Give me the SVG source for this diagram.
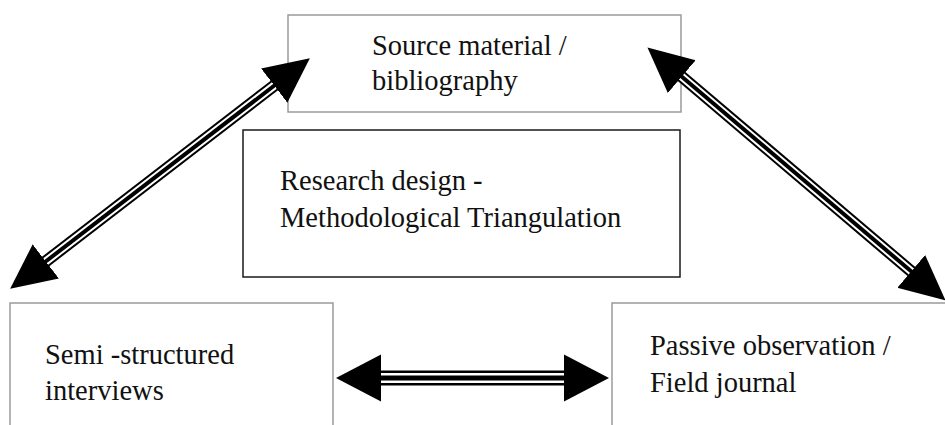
<svg xmlns="http://www.w3.org/2000/svg" width="945" height="425" viewBox="0 0 945 425">
<style>
.box{fill:#fff;stroke:#9a9a9a;stroke-width:1.5}
.dark{stroke:#1a1a1a}
.t{font-family:"Liberation Serif","Times New Roman",serif;font-size:28.5px;fill:#111}
.s1{stroke:#000;stroke-width:12;fill:none}
.s2{stroke:#fff;stroke-width:8;fill:none}
.s3{stroke:#000;stroke-width:4;fill:none}
.h1{stroke:#000;stroke-width:15;fill:none}
.h2{stroke:#fff;stroke-width:10;fill:none}
.h3{stroke:#000;stroke-width:5;fill:none}
</style>
<defs>
<marker id="head" viewBox="0 -23 47 46" markerWidth="47" markerHeight="46" refX="1" refY="0" orient="auto-start-reverse" markerUnits="userSpaceOnUse">
<path d="M0,-21.5 L45,0 L0,21.5 Z" fill="#000"/>
</marker>
<marker id="headh" viewBox="0 -24 47 48" markerWidth="47" markerHeight="48" refX="1" refY="0" orient="auto-start-reverse" markerUnits="userSpaceOnUse">
<path d="M0,-23.5 L45,0 L0,23.5 Z" fill="#000"/>
</marker>
</defs>
<rect width="945" height="425" fill="#fff"/>
<g id="source">
<rect class="box" x="288" y="15" width="393" height="97"/>
<text class="t" x="372" y="55">Source material /</text>
<text class="t" x="372" y="90">bibliography</text>
</g>
<g id="design">
<rect class="box dark" x="243" y="130" width="437" height="147"/>
<text class="t" x="280" y="190">Research design -</text>
<text class="t" x="280" y="227">Methodological Triangulation</text>
</g>
<g id="interviews">
<rect class="box" x="10" y="303" width="323" height="140"/>
<text class="t" x="45" y="364">Semi -structured</text>
<text class="t" x="45" y="400">interviews</text>
</g>
<g id="observation">
<rect class="box" x="612" y="303" width="350" height="140"/>
<text class="t" x="650" y="355">Passive observation /</text>
<text class="t" x="650" y="392">Field journal</text>
</g>
<g id="connectors">
<path class="s1" d="M45,262 L275,85"/>
<path class="s2" d="M45,262 L275,85"/>
<path class="s3" d="M45,262 L275,85" marker-start="url(#head)" marker-end="url(#head)"/>
<path class="s1" d="M681,76 L912,272"/>
<path class="s2" d="M681,76 L912,272"/>
<path class="s3" d="M681,76 L912,272" marker-start="url(#head)" marker-end="url(#head)"/>
<path class="h1" d="M380,378 L565,378"/>
<path class="h2" d="M380,378 L565,378"/>
<path class="h3" d="M380,378 L565,378" marker-start="url(#headh)" marker-end="url(#headh)"/>
</g>
</svg>
